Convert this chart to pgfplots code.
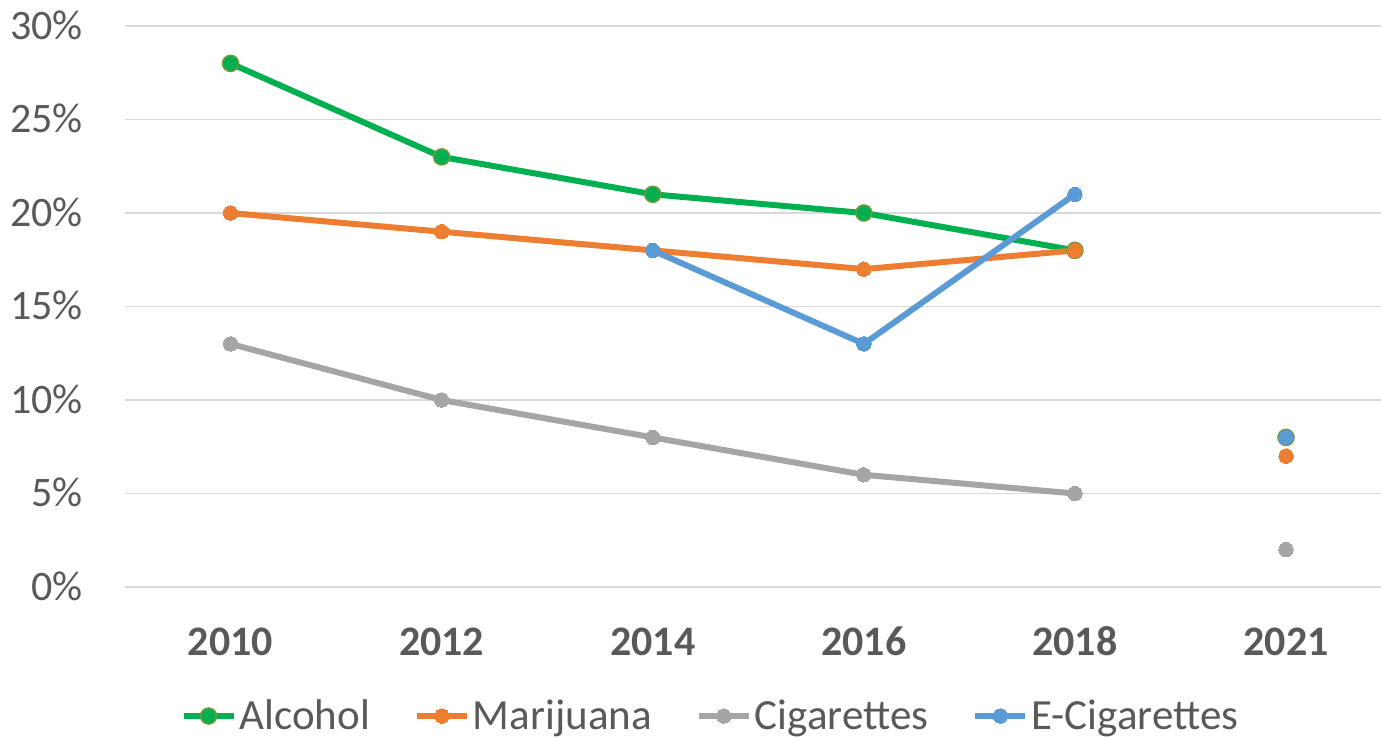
\documentclass[border=0pt]{standalone}
\usepackage{pgfplots}
\pgfplotsset{compat=1.18}
\usepackage{fontspec}
\setmainfont{Carlito}
\definecolor{cGreen}{HTML}{00B050}
\definecolor{cGreenEdge}{HTML}{6E9A3C}
\definecolor{cOrange}{HTML}{ED7D31}
\definecolor{cGray}{HTML}{A5A5A5}
\definecolor{cBlue}{HTML}{5B9BD5}
\definecolor{cText}{HTML}{595959}
\definecolor{cGrid}{HTML}{D9D9D9}
\begin{document}
\begin{tikzpicture}
\useasboundingbox (0pt,0pt) rectangle (690.5pt,-369pt);
\begin{axis}[
  at={(62.5pt,-293.5pt)}, anchor=south west,
  scale only axis, width=628pt, height=280.5pt,
  xmin=-0.5, xmax=5.45, ymin=0, ymax=30,
  xtick={0,1,2,3,4,5},
  xticklabels={2010,2012,2014,2016,2018,2021},
  ytick={0,5,10,15,20,25,30},
  yticklabels={0\%,5\%,10\%,15\%,20\%,25\%,30\%},
  major tick length=0pt,
  axis line style={draw=none},
  ymajorgrids, grid style={cGrid, line width=0.75pt},
  tick label style={font=\fontsize{21}{25}\selectfont, text=cText, inner sep=0pt},
  xticklabel style={font=\fontsize{21}{25}\selectfont\bfseries, anchor=base, yshift=-34pt},
  yticklabel style={anchor=base east, xshift=-21pt, yshift=-6.65pt},
  unbounded coords=jump,
  clip=false,
  legend columns=4,
  legend style={draw=none, fill=none, at={(0.4665,-0.23)}, anchor=center,
    font=\fontsize{21.5}{25}\selectfont, text=cText,
    /tikz/every even column/.append style={column sep=20.5pt},
    nodes={inner sep=1.5pt}},
  legend cell align=left,
  legend image code/.code={\draw[mark repeat=2, mark phase=2] plot coordinates {(0pt,0pt) (12.5pt,0pt) (25pt,0pt)};},
  every axis plot/.append style={line width=3pt, mark=*, mark size=3.6pt},
]
\addplot[cGreen, mark size=4pt, mark options={fill=cGreen, draw=cGreenEdge, line width=0.8pt}] coordinates {(0,28) (1,23) (2,21) (3,20) (4,18) (4.5,nan) (5,8)};
\addlegendentry{Alcohol}
\addplot[cOrange, mark options={fill=cOrange, draw=cOrange, line width=0pt}] coordinates {(0,20) (1,19) (2,18) (3,17) (4,18) (4.5,nan) (5,7)};
\addlegendentry{Marijuana}
\addplot[cGray, mark options={fill=cGray, draw=cGray, line width=0pt}] coordinates {(0,13) (1,10) (2,8) (3,6) (4,5) (4.5,nan) (5,2)};
\addlegendentry{Cigarettes}
\addplot[cBlue, mark options={fill=cBlue, draw=cBlue, line width=0pt}] coordinates {(2,18) (3,13) (4,21) (4.5,nan) (5,8)};
\addlegendentry{E-Cigarettes}
\end{axis}
\end{tikzpicture}
\end{document}
